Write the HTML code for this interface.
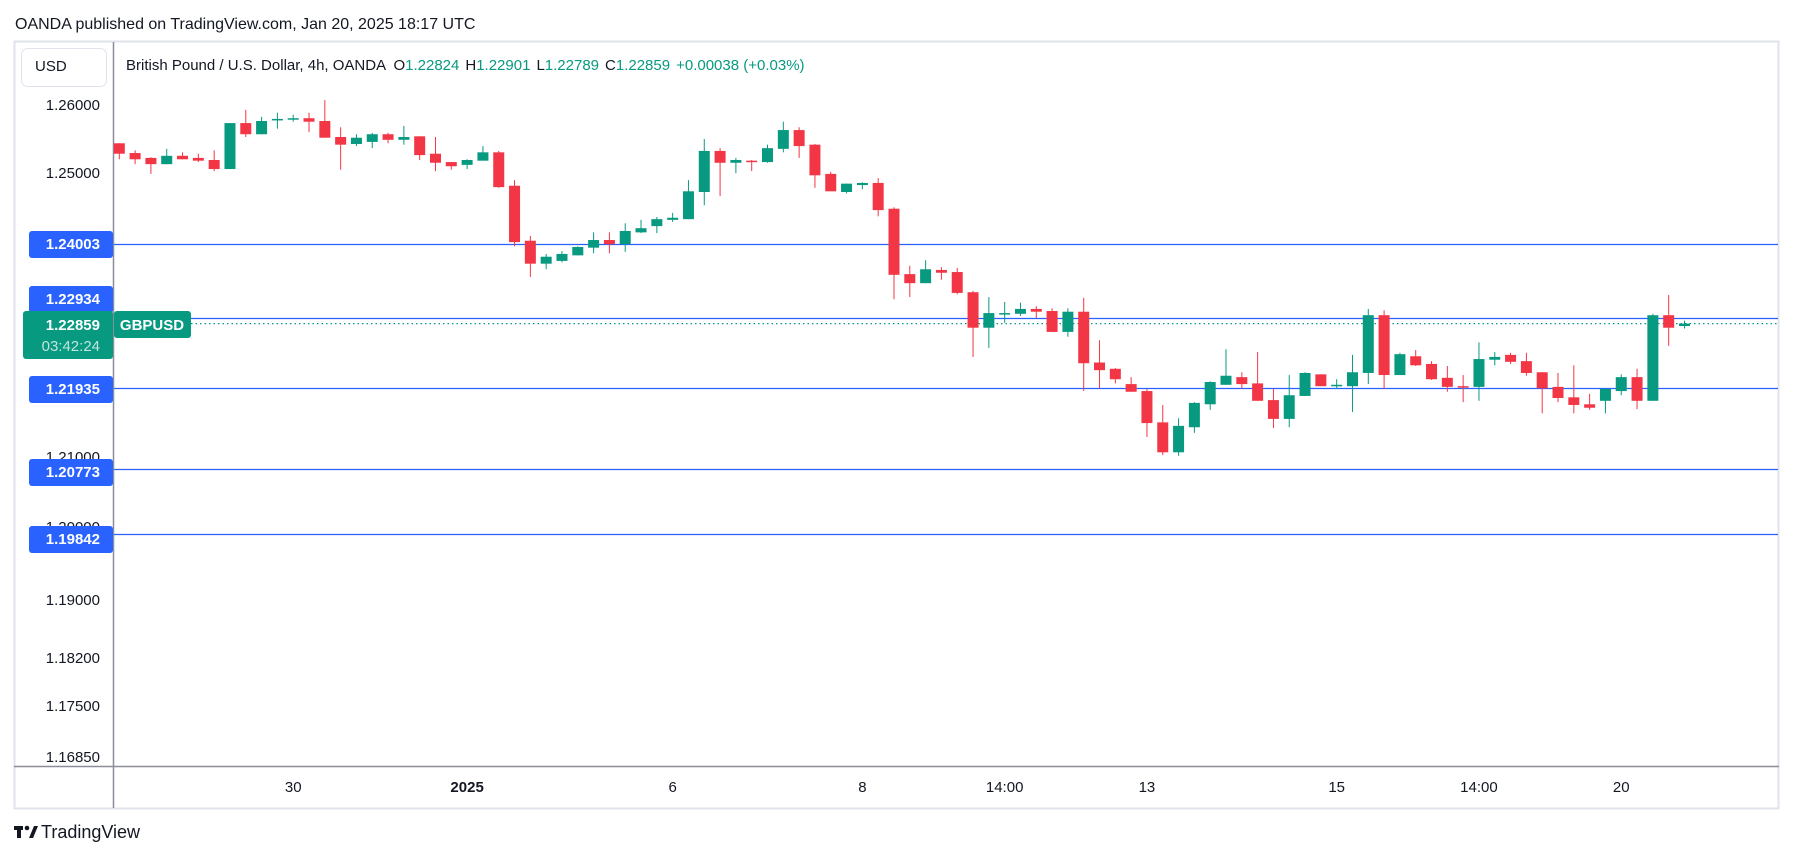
<!DOCTYPE html>
<html><head><meta charset="utf-8">
<style>
body{margin:0;background:#fff;font-family:"Liberation Sans",sans-serif;}
#wrap{position:relative;width:1793px;height:861px;overflow:hidden;background:#fff;}
</style></head>
<body>
<div id="wrap">
<svg id="svg" width="1793" height="861" xmlns="http://www.w3.org/2000/svg" font-family="Liberation Sans, sans-serif">
<text x="15" y="29" font-size="16" fill="#131722">OANDA published on TradingView.com, Jan 20, 2025 18:17 UTC</text>
<rect x="14.5" y="41.5" width="1764" height="767" fill="#fff" stroke="#e0e3eb" stroke-width="2"/>
<line x1="113.5" y1="42" x2="113.5" y2="808" stroke="#8a8e99" stroke-width="1.5"/>
<line x1="14" y1="766.5" x2="1779" y2="766.5" stroke="#8a8e99" stroke-width="1.5"/>
<rect x="21.5" y="48.5" width="85" height="38" rx="6" fill="#fff" stroke="#e0e3eb"/>
<text x="35" y="71" font-size="15" fill="#131722">USD</text>
<text x="126" y="70" font-size="15" fill="#131722">British Pound / U.S. Dollar, 4h, OANDA <tspan dx="4">O</tspan><tspan fill="#089981">1.22824</tspan><tspan dx="6">H</tspan><tspan fill="#089981">1.22901</tspan><tspan dx="6">L</tspan><tspan fill="#089981">1.22789</tspan><tspan dx="6">C</tspan><tspan fill="#089981">1.22859</tspan><tspan dx="6" fill="#089981">+0.00038 (+0.03%)</tspan></text>
<g id="yticks"></g>
<g id="xticks"></g>
<g id="hlines"></g>
<g id="candles"></g>
<g id="tags"></g>
<g>
<rect x="14" y="826" width="9" height="4" fill="#131722"/><rect x="17" y="826" width="4" height="12" fill="#131722"/><circle cx="27" cy="828" r="2.3" fill="#131722"/><polygon points="29,838 34,826 38,826 33,838" fill="#131722"/>
<text x="41" y="838" font-size="18" fill="#131722">TradingView</text>
</g>
</svg>
</div>
<script>
const opens=[1.2545,1.2531,1.2524,1.2515,1.2527,1.2524,1.2521,1.2508,1.2574,1.2558,1.2578,1.2580,1.2581,1.2577,1.2554,1.2544,1.2547,1.2558,1.2550,1.2555,1.2530,1.2518,1.2514,1.2520,1.2532,1.2484,1.2405,1.2372,1.2376,1.2384,1.2395,1.2406,1.2400,1.2417,1.2426,1.2435,1.2436,1.2475,1.2534,1.2517,1.2520,1.2518,1.2537,1.2564,1.2543,1.2501,1.2475,1.2485,1.2488,1.2451,1.2357,1.2344,1.2363,1.2360,1.2331,1.2280,1.2300,1.2300,1.2307,1.2304,1.2274,1.2303,1.2230,1.2221,1.2199,1.2189,1.2144,1.2101,1.2137,1.2170,1.2198,1.2209,1.2200,1.2176,1.2149,1.2182,1.2213,1.2196,1.2196,1.2215,1.2298,1.2212,1.2239,1.2228,1.2208,1.2196,1.2195,1.2234,1.2241,1.2232,1.2216,1.2195,1.2180,1.2170,1.2175,1.2189,1.2209,1.2175,1.2298,1.22824];
const highs=[1.2545,1.2535,1.2525,1.2537,1.2532,1.2530,1.2535,1.2574,1.2593,1.2583,1.2589,1.2586,1.2589,1.2607,1.2568,1.2558,1.2560,1.2560,1.2570,1.2555,1.2554,1.2518,1.2522,1.2541,1.2534,1.2492,1.2412,1.2386,1.2390,1.2397,1.2417,1.2417,1.2430,1.2435,1.2439,1.2445,1.2492,1.2551,1.2538,1.2524,1.2521,1.2543,1.2576,1.2568,1.2544,1.2504,1.2487,1.2489,1.2495,1.2453,1.2369,1.2377,1.2367,1.2366,1.2333,1.2324,1.2317,1.2316,1.2311,1.2308,1.2308,1.2323,1.2262,1.2222,1.2209,1.2192,1.2169,1.2150,1.2173,1.2203,1.2249,1.2216,1.2245,1.2192,1.2212,1.2216,1.2213,1.2206,1.2241,1.2307,1.2305,1.2244,1.2248,1.2232,1.2225,1.2212,1.2259,1.2245,1.2244,1.2244,1.2216,1.2215,1.2226,1.2185,1.2193,1.2213,1.2221,1.2300,1.2327,1.22901];
const lows=[1.2522,1.2515,1.2501,1.2515,1.2522,1.2518,1.2505,1.2508,1.2554,1.2558,1.2566,1.2576,1.2561,1.2553,1.2507,1.2541,1.2538,1.2545,1.2543,1.2521,1.2505,1.2507,1.2508,1.2520,1.2481,1.2397,1.2353,1.2364,1.2374,1.2384,1.2387,1.2387,1.2389,1.2416,1.2416,1.2432,1.2436,1.2456,1.2469,1.2502,1.2505,1.2517,1.2532,1.2524,1.2481,1.2476,1.2473,1.2479,1.2440,1.2321,1.2324,1.2344,1.2349,1.2328,1.2238,1.2251,1.2287,1.2297,1.2294,1.2274,1.2267,1.2189,1.2193,1.2200,1.2188,1.2123,1.2097,1.2096,1.2129,1.2162,1.2198,1.2192,1.2175,1.2136,1.2137,1.2182,1.2196,1.2192,1.2159,1.2199,1.2192,1.2212,1.2225,1.2205,1.2188,1.2173,1.2175,1.2226,1.2228,1.2211,1.2157,1.2173,1.2157,1.2162,1.2157,1.2183,1.2163,1.2175,1.2254,1.22789];
const closes=[1.2530,1.2522,1.2515,1.2527,1.2522,1.2520,1.2508,1.2574,1.2558,1.2577,1.2580,1.2581,1.2576,1.2553,1.2543,1.2553,1.2558,1.2550,1.2554,1.2528,1.2517,1.2512,1.2521,1.2532,1.2482,1.2403,1.2372,1.2382,1.2386,1.2396,1.2406,1.2400,1.2419,1.2423,1.2436,1.2438,1.2476,1.2534,1.2517,1.2521,1.2518,1.2538,1.2564,1.2541,1.2499,1.2476,1.2487,1.2488,1.2449,1.2356,1.2344,1.2364,1.2359,1.2330,1.2280,1.2301,1.2301,1.2307,1.2303,1.2274,1.2303,1.2229,1.2219,1.2206,1.2188,1.2143,1.2101,1.2139,1.2172,1.2202,1.2211,1.2199,1.2175,1.2149,1.2183,1.2215,1.2196,1.2198,1.2216,1.2298,1.2212,1.2242,1.2226,1.2206,1.2195,1.2195,1.2235,1.2238,1.2231,1.2215,1.2193,1.2179,1.2169,1.2165,1.2192,1.2209,1.2175,1.2298,1.2280,1.22859];
const yTickLabels=["1.26000","1.25000","1.21000","1.20000","1.19000","1.18200","1.17500","1.16850"];
const yTickPos=[105,173,457,527,600,658,706,757];
const xTickLabels=["30","2025","6","8","14:00","13","15","14:00","20"];
const xTickIdx=[11,22,35,47,56,65,77,86,95];
const xTickBold=[false,true,false,false,false,false,false,false,false];
const levelValues=[1.24003,1.22934,1.21935,1.20773,1.19842];
const levelTagY=[244,299,389,472,539];
const lastPrice=1.22859;

const NS="http://www.w3.org/2000/svg";
function yScale(p){return 105+(1.26-p)*6960;}
function xScale(i){return 119.3+i*15.81;}
function mk(tag,attrs,parent){const e=document.createElementNS(NS,tag);for(const k in attrs)e.setAttribute(k,attrs[k]);parent.appendChild(e);return e;}
const gY=document.getElementById('yticks'),gX=document.getElementById('xticks'),gH=document.getElementById('hlines'),gC=document.getElementById('candles'),gT=document.getElementById('tags');
yTickLabels.forEach((t,i)=>{const e=mk('text',{x:100,y:yTickPos[i]+5,'font-size':15,fill:'#131722','text-anchor':'end'},gY);e.textContent=t;

});
xTickLabels.forEach((t,i)=>{const e=mk('text',{x:xScale(xTickIdx[i]),y:792,'font-size':15,fill:'#131722','text-anchor':'middle','font-weight':xTickBold[i]?'bold':'normal'},gX);e.textContent=t;

});
levelValues.forEach((v,i)=>{const y=Math.round(yScale(v))+0.5;const l=mk('line',{x1:114,x2:1778,y1:y,y2:y,stroke:'#2962ff','stroke-width':1.2},gH);


const ty=levelTagY[i];const r=mk('rect',{x:29,y:ty-13,width:84,height:27,rx:3,fill:'#2962ff'},gT);


const t=mk('text',{x:100,y:ty+5,'font-size':15,'font-weight':'bold',fill:'#fff','text-anchor':'end'},gT);t.textContent=v.toFixed(5);

});
const ly=yScale(lastPrice);
const dl=mk('line',{x1:191,x2:1778,y1:ly,y2:ly,stroke:'#089981','stroke-width':1.2,'stroke-dasharray':'1.5 3'},gH);


for(let i=0;i<opens.length;i++){const up=closes[i]>=opens[i];const col=up?'#089981':'#f23645';const x=xScale(i);
const w=mk('line',{x1:x,x2:x,y1:yScale(highs[i]),y2:yScale(lows[i]),stroke:col,'stroke-width':1},gC);


const t=yScale(Math.max(opens[i],closes[i])),b=yScale(Math.min(opens[i],closes[i]));
const r=mk('rect',{x:x-5.5,y:t,width:11,height:Math.max(1.5,b-t),fill:col},gC);

}
const gr=mk('rect',{x:23,y:311,width:90,height:48,rx:3,fill:'#089981'},gT);


const gt1=mk('text',{x:100,y:330,'font-size':15,'font-weight':'bold',fill:'#fff','text-anchor':'end'},gT);gt1.textContent=lastPrice.toFixed(5);


const gt2=mk('text',{x:100,y:351,'font-size':15,fill:'#bfe6dc','text-anchor':'end'},gT);gt2.textContent='03:42:24';


const sr=mk('rect',{x:114,y:311,width:77,height:27,rx:3,fill:'#089981'},gT);


const st=mk('text',{x:152,y:330,'font-size':15,'font-weight':'bold',fill:'#fff','text-anchor':'middle'},gT);st.textContent='GBPUSD';


</script>
</body></html>
